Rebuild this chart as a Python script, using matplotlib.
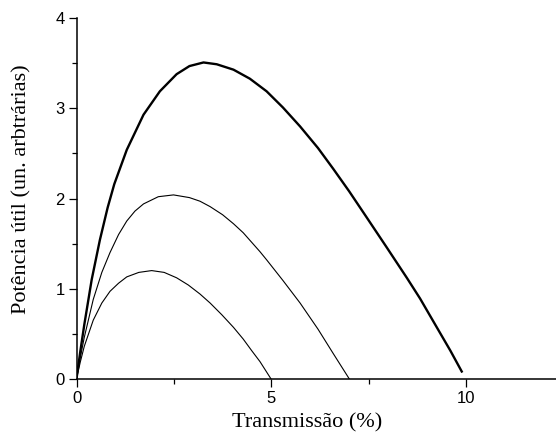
import matplotlib.pyplot as plt

# ---------------------------------
# Data
# ---------------------------------
# thick curve (largest gain)
x_high = [0, 0.1, 0.2, 0.39, 0.60, 0.8, 0.97, 1.29, 1.72, 2.14, 2.57, 2.9, 3.26, 3.6,
          4.03, 4.45, 4.88, 5.3, 5.74, 6.2, 6.59, 7.0, 7.45, 7.96, 8.48, 8.82, 9.25,
          9.6, 9.89]
y_high = [0, 0.31, 0.60, 1.10, 1.54, 1.90, 2.16, 2.54, 2.93, 3.19, 3.38, 3.47, 3.51, 3.49,
          3.43, 3.33, 3.19, 3.01, 2.80, 2.56, 2.33, 2.08, 1.79, 1.46, 1.12, 0.89, 0.57,
          0.31, 0.08]

# middle curve
x_mid = [0, 0.1, 0.2, 0.43, 0.65, 0.86, 1.08, 1.29, 1.5, 1.72, 2.1, 2.49, 2.9, 3.17,
         3.43, 3.75, 4.03, 4.28, 4.71, 4.88, 5.3, 5.74, 6.2, 6.59, 7.0]
y_mid = [0, 0.24, 0.46, 0.88, 1.18, 1.40, 1.60, 1.75, 1.86, 1.94, 2.02, 2.04, 2.01, 1.97,
         1.91, 1.82, 1.72, 1.62, 1.41, 1.32, 1.09, 0.84, 0.55, 0.28, 0]

# lower curve
x_low = [0, 0.1, 0.2, 0.43, 0.65, 0.86, 1.08, 1.29, 1.6, 1.93, 2.25, 2.57, 2.87, 3.17,
         3.43, 3.73, 4.03, 4.28, 4.5, 4.71, 4.99]
y_low = [0, 0.19, 0.36, 0.65, 0.84, 0.97, 1.06, 1.13, 1.18, 1.20, 1.18, 1.12, 1.04, 0.94,
         0.84, 0.71, 0.57, 0.44, 0.31, 0.19, 0]

xticks = [0, 5, 10]
yticks = [0, 1, 2, 3, 4]

# ---------------------------------
# Plot
# ---------------------------------
fig = plt.figure(figsize=(5.56, 4.36), dpi=100)
ax = fig.add_axes([0.1376, 0.1314, 0.8624, 0.8266])

ax.plot(x_high, y_high, color='black', linewidth=1.7)
ax.plot(x_mid, y_mid, color='black', linewidth=0.8)
ax.plot(x_low, y_low, color='black', linewidth=0.8)

ax.set_xlim(0, 12.31)
ax.set_ylim(0, 4)
ax.set_xticks(xticks)
ax.set_yticks(yticks)
ax.set_xticks([2.5, 7.5], minor=True)
ax.set_yticks([0.5, 1.5, 2.5, 3.5], minor=True)

for s in ['top', 'right']:
    ax.spines[s].set_visible(False)
for s in ['left', 'bottom']:
    ax.spines[s].set_linewidth(1.1)

ax.tick_params(which='major', direction='out', length=5.5, width=0.9,
               labelsize=12, pad=3)
ax.tick_params(which='minor', direction='out', length=3.3, width=0.9)
for lbl in ax.get_xticklabels() + ax.get_yticklabels():
    lbl.set_fontfamily('Liberation Sans')

ax.set_xlabel('Transmissão (%)', fontsize=16, fontfamily='Liberation Serif')
ax.set_ylabel('Potência útil (un. arbtrárias)', fontsize=16,
              fontfamily='Liberation Serif')
ax.xaxis.set_label_coords(0.481, -0.095)
ax.yaxis.set_label_coords(-0.093, 0.526)

fig.savefig('out.png', dpi=100)
